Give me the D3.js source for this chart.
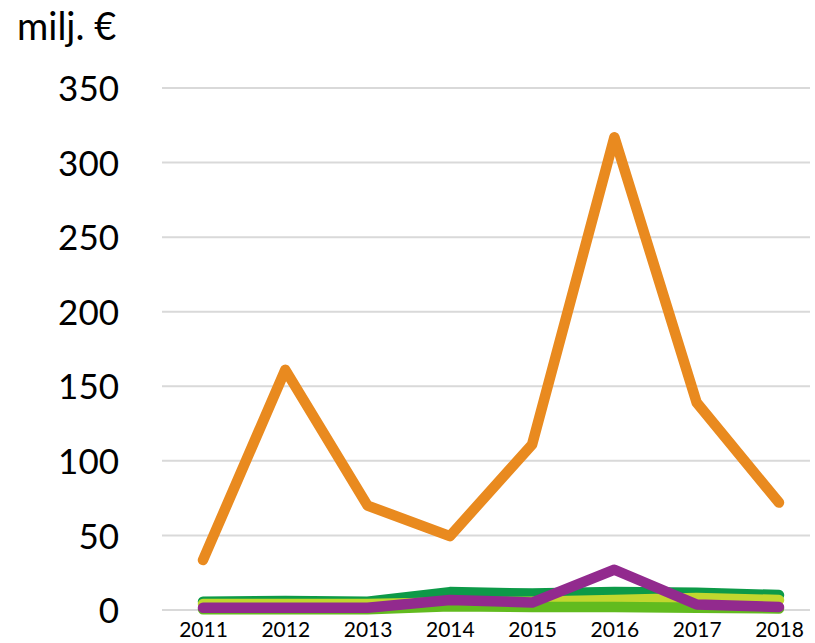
<!DOCTYPE html>
<html>
<head>
<meta charset="utf-8">
<script src="https://cdn.jsdelivr.net/npm/d3@7"></script>
<style>
  body { margin: 0; background: #fff; }
  text { font-family: Lato, "Open Sans", sans-serif; fill: #000; }
</style>
</head>
<body>
<svg id="chart"></svg>
<script>
// years on the x axis
const years = ["2011", "2012", "2013", "2014", "2015", "2016", "2017", "2018"];
const yTicks = [0, 50, 100, 150, 200, 250, 300, 350];

// series, drawn in this order (later ones on top)
const darkGreen = [5.5, 6, 5.5, 12, 11, 12, 11.5, 10];
const yellowGreen = [4, 4, 4, 5, 5.5, 6.7, 8, 6.7];
const lightGreen = [0.5, 0.5, 0.5, 2.5, 2, 2, 1.5, 1];
const purple = [1.5, 1.5, 1.5, 6.7, 5, 27, 3.7, 2];
const orange = [33.5, 161, 70, 49.5, 111, 317, 139, 72];

const series = [
    { values: darkGreen, color: "#0d9a48" },
    { values: yellowGreen, color: "#c1d72e" },
    { values: lightGreen, color: "#62bb1f" },
    { values: purple, color: "#922a8e" },
    { values: orange, color: "#e98a1f" }
];

const width = 815, height = 643;
const svg = d3.select("#chart")
    .attr("width", width)
    .attr("height", height);

const x = d3.scalePoint()
    .domain(years)
    .range([203, 779]);

const y = d3.scaleLinear()
    .domain([0, 350])
    .range([610, 88]);

const gridLeft = 162, gridRight = 810;

// gridlines
svg.append("g")
    .selectAll("line")
    .data(yTicks)
    .join("line")
    .attr("x1", gridLeft)
    .attr("x2", gridRight)
    .attr("y1", d => y(d))
    .attr("y2", d => y(d))
    .attr("stroke", "#d9d9d9")
    .attr("stroke-width", 2);

// y axis labels
const yAxis = svg.append("g")
    .attr("transform", "translate(119,0)")
    .call(d3.axisLeft(y).tickValues(yTicks).tickSize(0).tickPadding(0));
yAxis.select(".domain").remove();
yAxis.selectAll("text")
    .attr("font-size", 35)
    .attr("font-family", "Lato, sans-serif")
    .attr("fill", "#000")
    .attr("dy", "0.36em");

// x axis labels
const xAxis = svg.append("g")
    .attr("transform", "translate(0,622)")
    .call(d3.axisBottom(x).tickSize(0).tickPadding(0));
xAxis.select(".domain").remove();
xAxis.selectAll("text")
    .attr("font-size", 21)
    .attr("font-family", "Lato, sans-serif")
    .attr("fill", "#000")
    .attr("dy", "0.71em");

// unit label
svg.append("text")
    .attr("x", 17)
    .attr("y", 40)
    .attr("font-size", 38)
    .text("milj. €");

const line = d3.line()
    .x((d, i) => x(years[i]))
    .y(d => y(d));

svg.append("g")
    .selectAll("path")
    .data(series)
    .join("path")
    .attr("d", d => line(d.values))
    .attr("fill", "none")
    .attr("stroke", d => d.color)
    .attr("stroke-width", 10.5)
    .attr("stroke-linejoin", "round")
    .attr("stroke-linecap", "round");
</script>
</body>
</html>
